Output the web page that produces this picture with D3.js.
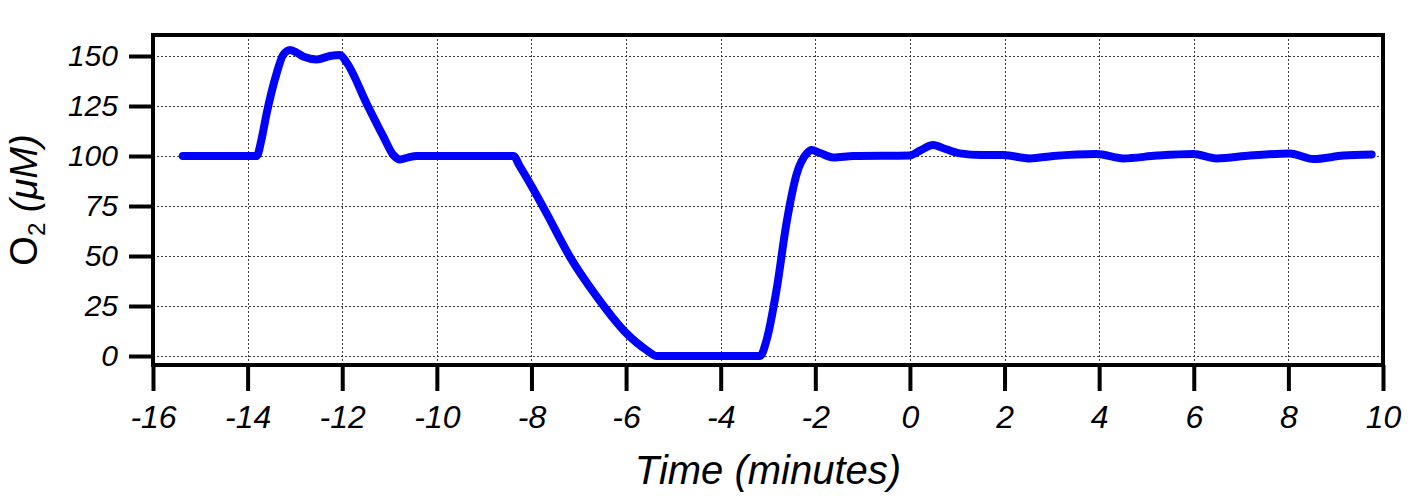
<!DOCTYPE html>
<html>
<head>
<meta charset="utf-8">
<script src="https://d3js.org/d3.v7.min.js"></script>
<style>
  body { margin: 0; background: #fff; }
  svg text { font-family: Arial, "Liberation Sans", sans-serif; }
</style>
</head>
<body>
<svg id="chart" width="1417" height="496"></svg>
<script>
// O2 trace
const timeMin = [-15.37, -13.81, -13.7, -13.6, -13.39, -13.25, -13.1, -12.95, -12.82, -12.54,
  -12.26, -12.05, -11.9, -11.48, -11.13, -10.92, -10.78, -10.6, -10.43,
  -9.5, -8.38, -8.25, -8.03, -7.68, -7.19, -6.62, -5.99, -5.57, -5.35,
  -3.17, -3.03, -2.82, -2.61, -2.39, -2.18, -2.08, -1.9, -1.62, -1.2,
  0.0, 0.2, 0.49, 0.75, 1.06, 1.5, 1.97, 2.54, 3.03, 3.95,
  4.51, 5.22, 5.99, 6.48, 7.19, 8.03, 8.53, 9.16, 9.76];
const o2 = [100, 100, 109, 121, 141, 150.5, 153, 151.5, 149.7, 148.3,
  150, 150.5, 146.5, 126, 109.7, 100.5, 98.3, 99.3, 100,
  100, 100, 95, 86.3, 71.3, 49.7, 29.7, 11.3, 3, 0,
  0, 8, 33, 66.3, 91.3, 101.3, 103, 101.5, 99.3, 100,
  100.3, 102.5, 105.5, 103.5, 101.3, 100.5, 100.5, 98.8, 100, 101,
  98.8, 100.2, 101, 98.8, 100.2, 101.3, 98.5, 100.2, 100.8];

const xTicks = [-16, -14, -12, -10, -8, -6, -4, -2, 0, 2, 4, 6, 8, 10];
const yTicks = [0, 25, 50, 75, 100, 125, 150];

const plot = { left: 153, right: 1383, top: 35, bottom: 365 };

const svg = d3.select("#chart");

const x = d3.scaleLinear().domain([-16, 10]).range([plot.left, plot.right]);
const y = d3.scaleLinear().domain([-4.5, 160.5]).range([plot.bottom, plot.top]);

// grid
const grid = svg.append("g")
  .attr("stroke", "#3a3a3a")
  .attr("stroke-width", 1)
  .attr("stroke-dasharray", "2,2");

grid.selectAll("line.v")
  .data(xTicks.slice(1, -1))
  .enter()
  .append("line")
  .attr("x1", (d) => Math.round(x(d)) + 0.5)
  .attr("x2", (d) => Math.round(x(d)) + 0.5)
  .attr("y1", plot.top)
  .attr("y2", plot.bottom);

grid.selectAll("line.h")
  .data(yTicks)
  .enter()
  .append("line")
  .attr("y1", (d) => Math.round(y(d)) + 0.5)
  .attr("y2", (d) => Math.round(y(d)) + 0.5)
  .attr("x1", plot.left)
  .attr("x2", plot.right);

// axes
const xAxis = svg.append("g")
  .attr("transform", `translate(0,${plot.bottom})`)
  .call(d3.axisBottom(x).tickValues(xTicks).tickSize(26).tickPadding(14).tickFormat(d3.format("d")));

const yAxis = svg.append("g")
  .attr("transform", `translate(${plot.left},0)`)
  .call(d3.axisLeft(y).tickValues(yTicks).tickSize(24).tickPadding(11));

[xAxis, yAxis].forEach((ax) => {
  ax.select(".domain").remove();
  ax.selectAll(".tick line").attr("stroke", "#000").attr("stroke-width", 4);
  ax.selectAll(".tick text")
    .attr("fill", "#000")
    .attr("font-style", "italic")
    .attr("font-family", "Arial, 'Liberation Sans', sans-serif");
});
xAxis.selectAll(".tick text").attr("font-size", 32).text((d) => String(d));
yAxis.selectAll(".tick text").attr("font-size", 30);

// data line
const line = d3.line()
  .x((d, i) => x(timeMin[i]))
  .y((d) => y(d))
  .curve(d3.curveMonotoneX);

svg.append("path")
  .datum(o2)
  .attr("fill", "none")
  .attr("stroke", "#0000ff")
  .attr("stroke-width", 8)
  .attr("stroke-linecap", "round")
  .attr("stroke-linejoin", "round")
  .attr("d", line);

// frame
svg.append("rect")
  .attr("x", plot.left)
  .attr("y", plot.top)
  .attr("width", plot.right - plot.left)
  .attr("height", plot.bottom - plot.top)
  .attr("fill", "none")
  .attr("stroke", "#000")
  .attr("stroke-width", 4);

// titles
svg.append("text")
  .attr("x", (plot.left + plot.right) / 2)
  .attr("y", 484)
  .attr("text-anchor", "middle")
  .attr("font-size", 40)
  .attr("font-style", "italic")
  .text("Time (minutes)");

const yTitle = svg.append("text")
  .attr("transform", `translate(37,${(plot.top + plot.bottom) / 2}) rotate(-90)`)
  .attr("text-anchor", "middle")
  .attr("font-size", 38);
yTitle.append("tspan").text("O");
yTitle.append("tspan").attr("font-size", 24).attr("dy", 8).text("2");
yTitle.append("tspan").attr("dy", -8).text(" ");
yTitle.append("tspan").attr("font-style", "italic").text("(μM)");
</script>
</body>
</html>
